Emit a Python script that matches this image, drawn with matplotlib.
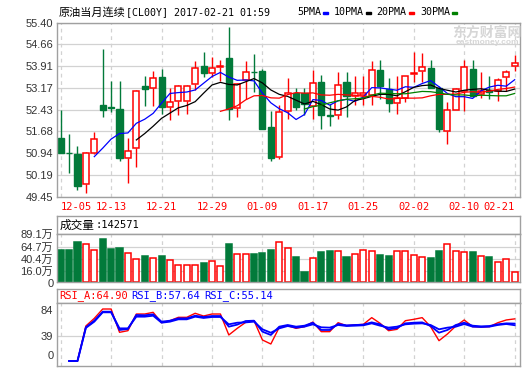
import numpy as np
import matplotlib
matplotlib.use("Agg")
import matplotlib.pyplot as plt
from matplotlib.patches import Rectangle

plt.rcParams["font.family"] = ["Liberation Sans", "Noto Sans CJK SC"]

# ---- 日K数据 ----
date_labels = ["12-05", "12-13", "12-21", "12-29", "01-09",
               "01-17", "01-25", "02-02", "02-10", "02-21"]

opens = [51.46, 50.96, 50.91, 49.87, 50.93, 52.57, 52.52, 52.44, 50.79, 51.10,
         53.22, 53.15, 53.53, 52.53, 52.71, 52.71, 53.30, 53.92, 53.67, 53.88,
         54.20, 52.50, 53.44, 53.72, 53.75, 51.83, 50.82, 52.37, 53.01, 53.01,
         52.55, 53.36, 52.24, 52.23, 53.38, 52.91, 52.93, 52.93, 53.77, 53.14,
         52.66, 52.83, 53.63, 53.74, 53.84, 53.16, 51.71, 52.41, 53.06, 53.81,
         52.97, 53.10, 53.08, 53.53, 53.93]
highs = [52.41, 51.59, 51.20, 50.98, 51.65, 54.50, 53.40, 53.40, 51.47, 53.10,
         53.58, 53.75, 53.80, 53.15, 53.27, 53.27, 54.09, 54.40, 54.24, 54.12,
         55.26, 53.33, 54.10, 54.33, 53.80, 52.39, 52.58, 53.50, 53.18, 53.15,
         53.78, 53.62, 52.62, 53.70, 53.72, 53.59, 53.58, 54.09, 54.11, 53.51,
         53.57, 53.59, 54.40, 54.36, 54.13, 53.25, 52.68, 53.16, 54.13, 54.13,
         53.70, 53.59, 53.50, 53.79, 54.29]
lows = [50.93, 50.27, 49.68, 49.59, 50.91, 52.19, 52.36, 50.68, 49.93, 50.48,
        52.56, 52.55, 52.28, 52.07, 52.25, 52.27, 53.10, 53.55, 53.55, 53.42,
        52.08, 52.16, 52.78, 53.04, 51.75, 50.68, 50.75, 52.09, 52.41, 52.24,
        52.12, 51.78, 51.86, 52.12, 52.18, 52.57, 52.58, 52.59, 52.80, 52.35,
        52.28, 52.68, 53.38, 53.36, 53.15, 51.67, 51.26, 52.40, 52.39, 52.86,
        52.82, 52.80, 52.71, 53.06, 53.76]
closes = [50.95, 50.93, 49.83, 50.93, 51.44, 52.42, 52.49, 50.79, 51.02, 53.06,
          53.14, 53.50, 52.53, 52.68, 53.22, 53.22, 53.84, 53.67, 53.84, 53.91,
          52.44, 53.30, 53.72, 53.70, 51.77, 50.79, 52.34, 53.01, 52.53, 52.62,
          53.33, 52.23, 52.20, 53.27, 52.88, 52.98, 52.98, 53.77, 53.25, 52.65,
          52.82, 53.57, 53.68, 53.87, 53.16, 51.76, 52.41, 53.14, 53.87, 52.88,
          53.07, 53.02, 53.45, 53.72, 54.01]

# 均线（读图值）
ma5 = [None] * 4 + [
    50.82, 51.11, 51.42, 51.61, 51.63, 51.96, 52.10, 52.30, 52.65, 52.98,
    53.01, 53.03, 53.10, 53.33, 53.56, 53.70, 53.54, 53.43, 53.44, 53.41,
    52.99, 52.66, 52.46, 52.32, 52.09, 52.26, 52.77, 52.74, 52.58, 52.73,
    52.78, 52.71, 52.86, 53.18, 53.17, 53.13, 53.09, 53.21, 53.19, 53.32,
    53.42, 53.21, 52.98, 52.87, 52.87, 52.81, 53.07, 53.20, 53.26, 53.23,
    53.45]
ma10 = [None] * 9 + [
    51.39, 51.61, 51.86, 52.13, 52.31, 52.49, 52.57, 52.70, 52.99, 53.27,
    53.36, 53.29, 53.27, 53.38, 53.49, 53.34, 53.10, 52.95, 52.88, 52.75,
    52.62, 52.71, 52.60, 52.45, 52.41, 52.52, 52.74, 52.80, 52.88, 52.95,
    52.95, 52.90, 53.04, 53.19, 53.25, 53.27, 53.15, 53.09, 53.03, 53.09,
    53.12, 53.14, 53.09, 53.06, 53.05, 53.13]
ma20 = [None] * 19 + [
    52.37, 52.45, 52.56, 52.76, 52.90, 52.91, 52.83, 52.82, 52.94, 53.01,
    52.99, 53.00, 52.93, 52.92, 52.95, 52.93, 52.92, 52.88, 52.88, 52.85,
    52.79, 52.81, 52.82, 52.82, 52.83, 52.90, 52.95, 52.95, 52.96, 53.02,
    53.04, 53.02, 53.06, 53.12, 53.15, 53.20]
ma30 = [None] * 29 + [
    52.45, 52.53, 52.58, 52.66, 52.73, 52.78, 52.80, 52.82, 52.92, 52.99,
    52.98, 52.97, 52.97, 53.01, 53.05, 53.04, 53.00, 52.95, 52.93, 52.93,
    52.90, 52.92, 52.91, 52.90, 52.90, 52.98]

# 成交量（单位：万）
volumes = [57.7, 57.7, 73.7, 69.7, 57.7, 79.6, 59.7, 61.7, 51.7, 39.1,
           45.7, 41.1, 45.7, 37.7, 27.1, 27.1, 27.1, 31.7, 35.7, 25.1,
           69.7, 49.7, 49.7, 50.3, 52.3, 57.7, 73.0, 61.1, 43.7, 13.8,
           41.1, 53.7, 55.7, 55.1, 43.7, 49.7, 57.1, 55.1, 47.7, 45.7,
           55.1, 55.1, 47.1, 43.1, 41.1, 55.7, 69.7, 55.1, 53.1, 53.7,
           45.1, 43.7, 33.1, 39.1, 14.26]

# RSI 三条线
rsi_a = [None, 0, 0, 54.0, 65.7, 80.1, 80.1, 44.2, 46.7, 72.4,
         72.4, 75.0, 59.0, 62.1, 67.3, 67.3, 73.5, 69.3, 72.4, 72.4,
         40.1, 50.3, 59.5, 62.1, 32.4, 26.2, 51.9, 54.4, 50.3, 52.9,
         60.0, 45.2, 45.2, 59.0, 54.4, 55.5, 56.5, 66.8, 58.0, 46.7,
         48.8, 62.1, 64.2, 66.8, 52.9, 31.3, 41.6, 53.9, 63.2, 52.9,
         52.4, 52.9, 59.0, 63.2, 64.90]
rsi_b = [None, 0, 0, 52.0, 62.1, 76.0, 76.0, 47.8, 49.3, 70.9,
         70.4, 71.9, 60.6, 62.1, 65.7, 65.7, 69.8, 67.8, 69.3, 69.3,
         52.9, 56.0, 61.6, 62.1, 45.2, 40.1, 52.9, 55.5, 52.9, 54.4,
         59.0, 47.8, 47.8, 57.0, 55.0, 55.5, 56.0, 59.5, 56.5, 48.8,
         50.8, 58.0, 59.0, 59.5, 53.9, 43.6, 47.8, 55.5, 59.0, 54.4,
         53.4, 53.9, 56.5, 58.0, 57.64]
rsi_c = [None, 0, 0, 51.0, 60.6, 75.0, 75.0, 50.3, 50.3, 68.3,
         68.3, 69.8, 59.0, 60.6, 64.2, 64.2, 68.3, 66.3, 67.8, 67.8,
         56.5, 59.0, 59.5, 60.6, 48.8, 43.6, 50.3, 53.9, 51.4, 52.9,
         56.5, 51.9, 51.4, 55.5, 53.9, 54.4, 55.0, 58.0, 54.4, 51.4,
         52.9, 56.5, 57.5, 58.0, 55.5, 48.8, 51.4, 52.9, 57.0, 52.9,
         52.4, 52.9, 55.5, 57.0, 55.14]

price_ticks = [49.45, 50.19, 50.94, 51.68, 52.43, 53.17, 53.91, 54.66, 55.40]
vol_ticks = [0, 16.0, 40.4, 64.7, 89.1]
rsi_ticks = [0, 39, 84]

# ---- 样式 ----
RED = "#ff0000"
GREEN = "#027a3a"
FRAME = "#a0a0a0"
GRID = "#d2d2d2"
TXT = "#333333"
MONO = "DejaVu Sans Mono"
CJK = "Noto Sans CJK SC"
BODY = 0.72
VOL_FLOOR = -6.2

W, H = 524, 369
LEFT, RIGHT = 57.3, 520.3


def px_box(l, t, r, b):
    return [l / W, 1 - b / H, (r - l) / W, (b - t) / H]


def fx(px):
    return px / W


def fy(py):
    return 1 - py / H


n = len(closes)
x = np.arange(n)
date_pos = x[::6]
rising = np.array(closes) >= np.array(opens)

fig = plt.figure(figsize=(W / 100, H / 100), dpi=100)
fig.patch.set_facecolor("white")

ax_k = fig.add_axes(px_box(LEFT, 22.7, RIGHT, 196.7))
ax_vh = fig.add_axes(px_box(LEFT, 216, RIGHT, 234.3))
ax_v = fig.add_axes(px_box(LEFT, 234.3, RIGHT, 282))
ax_rh = fig.add_axes(px_box(LEFT, 289, RIGHT, 303.3))
ax_r = fig.add_axes(px_box(LEFT, 303.3, RIGHT, 366))

for ax in (ax_k, ax_vh, ax_v, ax_rh, ax_r):
    for s in ax.spines.values():
        s.set_color(FRAME)
        s.set_linewidth(1)
    ax.set_xlim(-0.4, n - 0.33)
    ax.tick_params(length=0, labelsize=8, labelcolor=TXT)
    ax.set_axisbelow(True)

for ax in (ax_vh, ax_rh):
    ax.set_xticks([])
    ax.set_yticks([])

# ---- K线 ----
for i in range(n):
    o, h, l, c = opens[i], highs[i], lows[i], closes[i]
    lo, hi = min(o, c), max(o, c)
    if rising[i]:
        ax_k.vlines(i, hi, h, color=RED, lw=1, zorder=2)
        ax_k.vlines(i, l, lo, color=RED, lw=1, zorder=2)
        ax_k.add_patch(Rectangle((i - BODY / 2, lo), BODY, hi - lo,
                                 facecolor="white", edgecolor=RED, lw=1.1, zorder=2))
    else:
        ax_k.vlines(i, l, h, color=GREEN, lw=1, zorder=2)
        ax_k.add_patch(Rectangle((i - BODY / 2, lo), BODY, hi - lo,
                                 facecolor=GREEN, edgecolor=GREEN, lw=1, zorder=2))

ax_k.plot(x, np.array(ma5, dtype=float), color="#0000ff", lw=0.9, zorder=3)
ax_k.plot(x, np.array(ma10, dtype=float), color="#000000", lw=0.9, zorder=3)
ax_k.plot(x, np.array(ma20, dtype=float), color="#ff0000", lw=0.9, zorder=3)
ax_k.plot(x, np.array(ma30, dtype=float), color="#008000", lw=0.9, zorder=3)

ax_k.set_ylim(price_ticks[0], price_ticks[-1])
ax_k.set_yticks(price_ticks)
ax_k.set_yticklabels([f"{v:.2f}" for v in price_ticks])
ax_k.set_xticks(date_pos)
ax_k.set_xticklabels(date_labels, color=RED, family=MONO, fontsize=7.5)
ax_k.tick_params(axis="x", pad=3.5)
ax_k.tick_params(axis="y", pad=2.9)
ax_k.get_xticklabels()[0].set_ha("left")
ax_k.get_xticklabels()[-1].set_ha("right")
ax_k.grid(axis="y", color=GRID, lw=0.9, ls="-")
ax_k.grid(axis="x", color=GRID, lw=0.9, ls=(0, (3, 3)))

# ---- 成交量 ----
vol = np.array(volumes)
ax_v.bar(x, vol - VOL_FLOOR, bottom=VOL_FLOOR, width=BODY,
         color=np.where(rising, "white", GREEN),
         edgecolor=np.where(rising, RED, GREEN), lw=1.1, zorder=2)
ax_v.set_ylim(VOL_FLOOR, vol_ticks[-1])
ax_v.set_yticks(vol_ticks)
ax_v.set_yticklabels(["0"] + [f"{v:.1f}万" for v in vol_ticks[1:]])
ax_v.set_xticks(date_pos)
ax_v.tick_params(axis="x", labelbottom=False)
ax_v.tick_params(axis="y", pad=2.9)
ax_v.grid(axis="y", color=GRID, lw=0.9, ls="-")
ax_v.grid(axis="x", color=GRID, lw=0.9, ls=(0, (3, 3)))
ax_v.get_ygridlines()[0].set_visible(False)
ax_v.get_yticklabels()[0].set_va("top")

# ---- RSI ----
ax_r.plot(x, np.array(rsi_a, dtype=float), color=RED, lw=1, zorder=2)
ax_r.plot(x, np.array(rsi_b, dtype=float), color="#0000ff", lw=1.3, zorder=3)
ax_r.plot(x, np.array(rsi_c, dtype=float), color="#0000ff", lw=1.3, zorder=3)
ax_r.set_ylim(-7.7, 88.9)
ax_r.set_yticks(rsi_ticks)
ax_r.set_yticklabels([str(v) for v in rsi_ticks])
ax_r.set_xticks(date_pos)
ax_r.tick_params(axis="x", labelbottom=False)
ax_r.tick_params(axis="y", pad=2.9)
ax_r.grid(axis="y", color=GRID, lw=0.9, ls="-")
ax_r.grid(axis="x", color=GRID, lw=0.9, ls=(0, (3, 3)))
ax_r.get_ygridlines()[0].set_visible(False)
ax_r.get_ygridlines()[-1].set_visible(False)
ax_r.get_yticklabels()[0].set_va("bottom")
ax_r.get_yticklabels()[-1].set_va("top")

# ---- 标题、图例、面板标题 ----
fig.text(fx(59), fy(12), "原油当月连续", family=CJK, fontsize=8, va="center")
fig.text(fx(125.5), fy(12), "[CL00Y] 2017-02-21 01:59", family=MONO,
         fontsize=7.2, va="center")

legend = [("5PMA", "#0000ff", 297, 323), ("10PMA", "#000000", 333.7, 366),
          ("20PMA", "#ff0000", 376, 408.7), ("30PMA", "#008000", 420, 452)]
for name, col, tx, rx in legend:
    fig.text(fx(tx), fy(12), name, family=MONO, fontsize=7.2, va="center")
    fig.add_artist(Rectangle((fx(rx), fy(14.3)), 5 / W, 2.8 / H,
                             transform=fig.transFigure, color=col))

fig.text(fx(60), fy(225), "成交量", family=CJK, fontsize=8.4, va="center")
fig.text(fx(95), fy(225), ":142571", family=MONO, fontsize=7.5, va="center")

fig.text(fx(59), fy(295.5), "RSI_A:64.90", family=MONO, fontsize=7.5,
         va="center", color=RED)
fig.text(fx(131), fy(295.5), "RSI_B:57.64", family=MONO, fontsize=7.5,
         va="center", color="#0000ff")
fig.text(fx(204), fy(295.5), "RSI_C:55.14", family=MONO, fontsize=7.5,
         va="center", color="#0000ff")

# 水印
fig.text(fx(487), fy(33), "东方财富网", family=CJK, fontsize=10,
         fontweight="bold", color="#d6d6d6", ha="center", va="center")
fig.text(fx(487), fy(42.5), "eastmoney.com", fontsize=6, fontweight="bold",
         color="#d6d6d6", ha="center", va="center")

fig.savefig("out.png", dpi=100, facecolor="white")
